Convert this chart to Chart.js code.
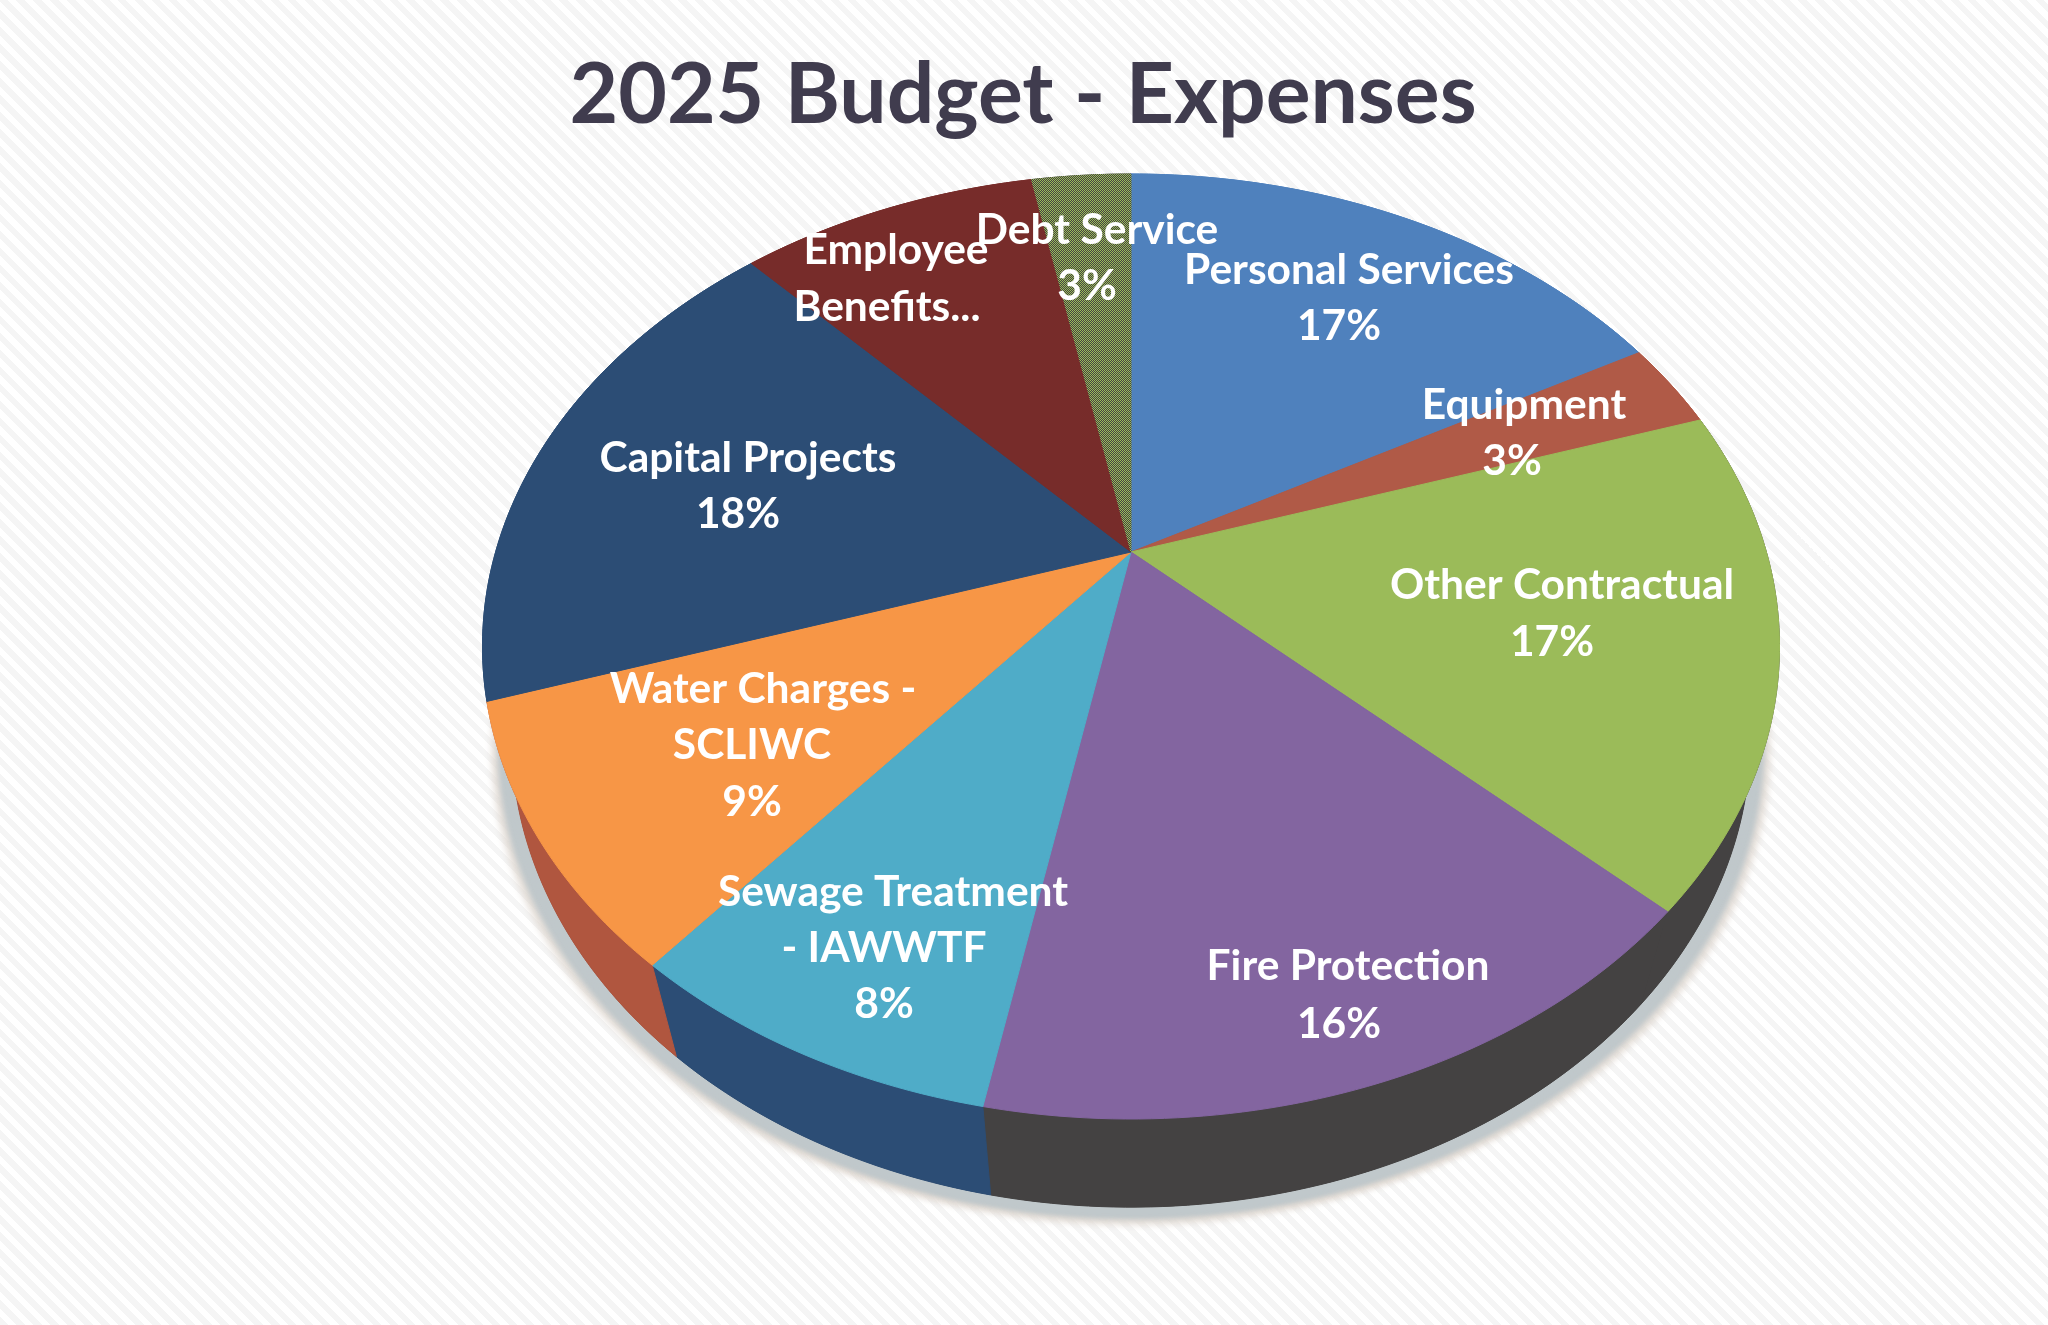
<!DOCTYPE html>
<html>
<head>
<meta charset="utf-8">
<title>2025 Budget - Expenses</title>
<script src="https://cdn.jsdelivr.net/npm/chart.js@4"></script>
<style>
    html, body { margin: 0; padding: 0; }
    body {
        width: 2048px;
        height: 1325px;
        overflow: hidden;
        background: repeating-linear-gradient(45deg, #f5f5f5 0 6px, #ffffff 6px 12px);
    }
    canvas { display: block; }
</style>
</head>
<body>
<canvas id="budgetChart" width="2048" height="1325"></canvas>
<script>
const categories = ['Personal Services', 'Equipment', 'Other Contractual', 'Fire Protection',
    'Sewage Treatment - IAWWTF', 'Water Charges - SCLIWC', 'Capital Projects', 'Employee Benefits...', 'Debt Service'];
const percents = [17, 3, 17, 16, 8, 9, 18, 9, 3];
const labelLines = [
    ['Personal Services'], ['Equipment'], ['Other Contractual'], ['Fire Protection'],
    ['Sewage Treatment', '- IAWWTF'], ['Water Charges -', 'SCLIWC'], ['Capital Projects'],
    ['Employee', 'Benefits...'], ['Debt Service']
];
const topColors = ['#4f81bd', '#b05a47', '#9bbb59', '#8365a0', '#4facc8', '#f79646', '#2c4d75', '#772c2a', null];
const wallColors = ['#4f81bd', '#b05a47', '#444242', '#444242', '#2c4d75', '#b0563f', '#2c4d75', '#772c2a', '#444242'];

// text centres for each label line, the percent line comes last when there is one
const labelAnchors = [
    [[1349, 270], [1339, 326]],
    [[1524, 405], [1512, 461]],
    [[1562, 585], [1552, 642]],
    [[1348, 966], [1339, 1024]],
    [[893, 892], [884, 948], [884, 1004]],
    [[763, 689], [752, 745], [752, 802]],
    [[748, 458], [738, 514]],
    [[896, 250], [887, 307]],
    [[1097, 230], [1087, 286]]
];

// tilted disc: apex position, projection scales, perspective strength, wall drop
const view = { x0: 1131, y0: 552, a: 635.4, b: 453.6, c: 0.2, k: 0.045, drop: 100 };

function project(angle, depth) {
    const u = Math.cos(angle);
    const v = Math.sin(angle);
    const den = 1 - view.c * v + view.k * depth;
    return {
        x: view.x0 + view.a * u / den,
        y: view.y0 + (view.b * v + view.drop * depth) / den
    };
}

function traceRim(ctx, from, to, depth, first) {
    const steps = Math.max(8, Math.ceil(Math.abs(to - from) * 60));
    for (let i = 0; i <= steps; i++) {
        const p = project(from + (to - from) * i / steps, depth);
        if (i === 0 && first) ctx.moveTo(p.x, p.y);
        else ctx.lineTo(p.x, p.y);
    }
}

// checker of green and dark pixels for the debt slice
function ditherPattern() {
    const tile = document.createElement('canvas');
    tile.width = 2;
    tile.height = 2;
    const t = tile.getContext('2d');
    t.fillStyle = '#444242';
    t.fillRect(0, 0, 2, 2);
    t.fillStyle = '#9bbb59';
    t.fillRect(0, 0, 1, 1);
    t.fillRect(1, 1, 1, 1);
    return t.createPattern(tile, 'repeat');
}

// shadow of the bottom rim, spread sideways too; the top face hides its upper half
function castShadow(ctx, color, blur, side, drop) {
    [[-side, drop * 0.6], [side, drop * 0.6], [0, drop]].forEach(([dx, dy]) => {
        ctx.save();
        ctx.shadowColor = color;
        ctx.shadowBlur = blur;
        ctx.shadowOffsetX = dx;
        ctx.shadowOffsetY = dy;
        ctx.fillStyle = '#444242';
        ctx.beginPath();
        traceRim(ctx, 0, Math.PI * 2, 1, true);
        ctx.closePath();
        ctx.fill();
        ctx.restore();
    });
}

const pie3d = {
    id: 'pie3d',
    beforeDatasetDraw(chart, args) {
        const ctx = chart.ctx;
        const arcs = args.meta.data;

        // warm fringe first, then the grey band under the body
        castShadow(ctx, 'rgba(222, 215, 208, 0.8)', 6, 20, 18);
        castShadow(ctx, 'rgba(192, 200, 203, 1)', 5, 14, 12);

        // side wall, each slice between its top rim and bottom rim
        arcs.forEach((arc, i) => {
            ctx.beginPath();
            traceRim(ctx, arc.startAngle, arc.endAngle, 0, true);
            traceRim(ctx, arc.endAngle, arc.startAngle, 1, false);
            ctx.closePath();
            ctx.fillStyle = wallColors[i];
            ctx.strokeStyle = wallColors[i];
            ctx.fill();
            ctx.stroke();
        });

        // top faces use the angles the pie controller worked out
        arcs.forEach(arc => {
            const color = arc.options.backgroundColor;
            ctx.beginPath();
            ctx.moveTo(view.x0, view.y0);
            traceRim(ctx, arc.startAngle, arc.endAngle, 0, false);
            ctx.closePath();
            ctx.fillStyle = color;
            ctx.fill();
            ctx.strokeStyle = color;
            ctx.lineWidth = 1;
            ctx.stroke();
        });
        return false;
    },
    afterDatasetsDraw(chart) {
        const ctx = chart.ctx;
        ctx.save();
        ctx.font = 'bold 42.5px Lato';
        ctx.fillStyle = '#ffffff';
        ctx.textAlign = 'center';
        ctx.textBaseline = 'middle';
        labelAnchors.forEach((anchors, i) => {
            const lines = labelLines[i].slice();
            if (anchors.length > lines.length) lines.push(`${percents[i]}%`);
            lines.forEach((line, j) => ctx.fillText(line, anchors[j][0], anchors[j][1]));
        });
        ctx.restore();
    }
};

const dither = ditherPattern();

new Chart(document.getElementById('budgetChart').getContext('2d'), {
    type: 'pie',
    data: {
        labels: categories,
        datasets: [{
            data: percents,
            backgroundColor: topColors.map(c => c || dither),
            borderWidth: 0
        }]
    },
    options: {
        responsive: false,
        animation: false,
        layout: { padding: { right: 2 } },
        plugins: {
            legend: { display: false },
            tooltip: { enabled: false },
            title: {
                display: true,
                text: '2025 Budget - Expenses',
                color: '#403c4e',
                font: { family: 'Lato', size: 84, weight: 'bold' },
                padding: { top: 46, bottom: 10 }
            }
        }
    },
    plugins: [pie3d]
});
</script>
</body>
</html>
